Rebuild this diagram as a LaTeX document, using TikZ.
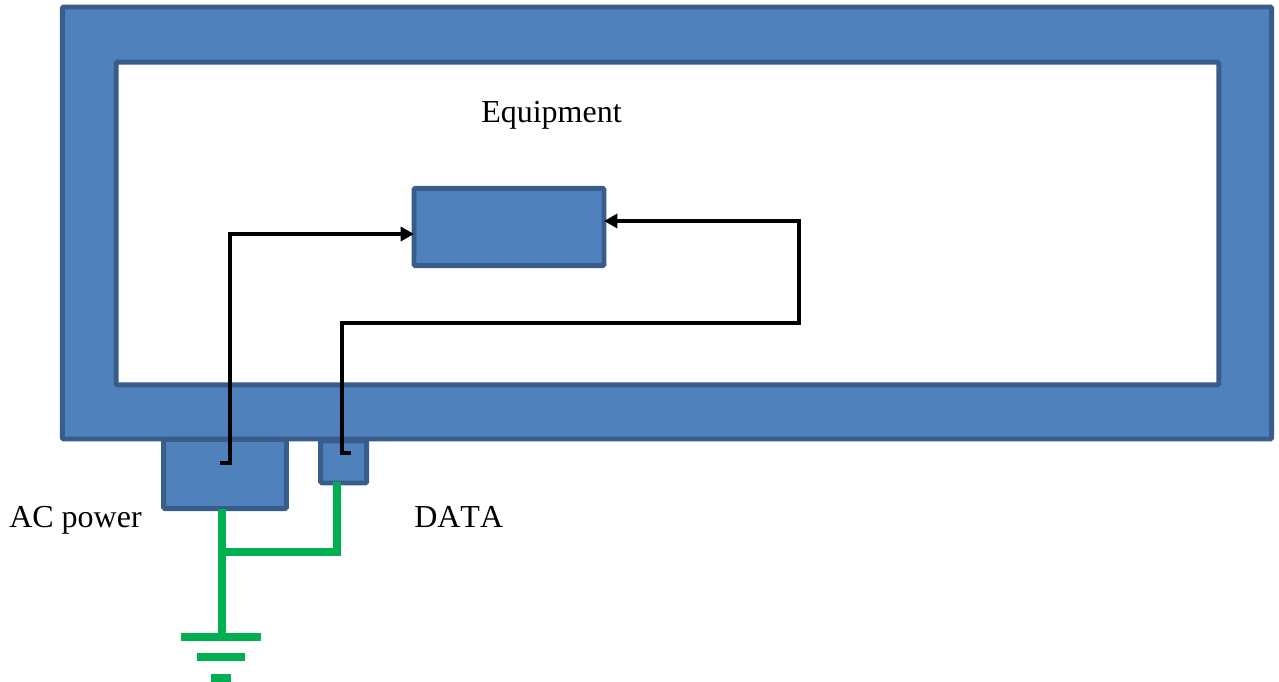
\documentclass[tikz,border=0pt]{standalone}
\usepackage{fontspec}
\setmainfont{Liberation Serif}
\usetikzlibrary{arrows.meta, positioning, calc}

\begin{document}
\begin{tikzpicture}[
  x=0.75pt, y=-0.75pt,
  block/.style = {draw=blockedge, fill=blockfill, line width=3.7pt, rounded corners=1pt, inner sep=0pt, outer sep=0pt},
  hole/.style = {block, fill=white},
  label/.style = {font=\fontsize{24}{28}\selectfont, anchor=base west, inner sep=0pt},
  arrow/.style = {line width=2.8pt, line join=miter, -{Triangle[length=10pt, width=10.5pt]}},
  earth/.style = {draw=earthgreen, line width=6pt},
  bar/.style = {draw=earthgreen, line width=6.2pt}
]
  \definecolor{blockfill}{HTML}{4F81BD}
  \definecolor{blockedge}{HTML}{385D8A}
  \definecolor{earthgreen}{HTML}{00B050}

  \useasboundingbox (0,0) rectangle (1279,682);

  % Equipment frame
  \node[block, minimum width=907pt, minimum height=324pt] (frame) at (667,223) {};
  \node[hole, minimum width=827pt, minimum height=242pt] (inner) at (667.5,223.5) {};

  % Central block and connectors on the rear panel
  \node[block, minimum width=142.5pt, minimum height=58pt] (unit) at (509,227) {};
  \node[block, minimum width=92pt, minimum height=52pt] (power) at (225,474) {};
  \node[block, minimum width=34.5pt, minimum height=31.5pt] (data) at (343.7,462) {};

  % Labels
  \node[label] (equiplabel) at (481,122) {Equipment};
  \node[label] (powerlabel) at (9,527) {AC power};
  \node[label] (datalabel) at (414,527) {\addfontfeatures{Kerning=Off}DATA};

  % Ground wiring
  \coordinate (powerdrop) at (222,509);
  \coordinate (datadrop) at (337,482);
  \coordinate (bartop) at (222,634);
  \coordinate (barA) at (181,637);
  \coordinate (barB) at (197,657);
  \coordinate (barC) at (211,678);
  \draw[earth] (powerdrop) -- (bartop);
  \draw[earth] (datadrop) |- (powerdrop |- 0,552);
  \draw[bar] (barA) -- ++(80,0);
  \draw[bar] (barB) -- ++(48,0);
  \draw[bar] (barC) -- ++(20,0);

  % Signal lines
  \coordinate (powerin) at (220,463);
  \coordinate (datain) at (351,453);
  \coordinate (powerturn) at (230,463);
  \coordinate (dataturn) at (342,453);
  \coordinate (dataright) at (799,323);
  \draw[arrow] (powerin) -- (powerturn) |- ($(unit.west)+(0,7)$);
  \draw[arrow] (datain) -- (dataturn) |- (dataright) |- ($(unit.east)+(0,-6)$);

\end{tikzpicture}
\end{document}
